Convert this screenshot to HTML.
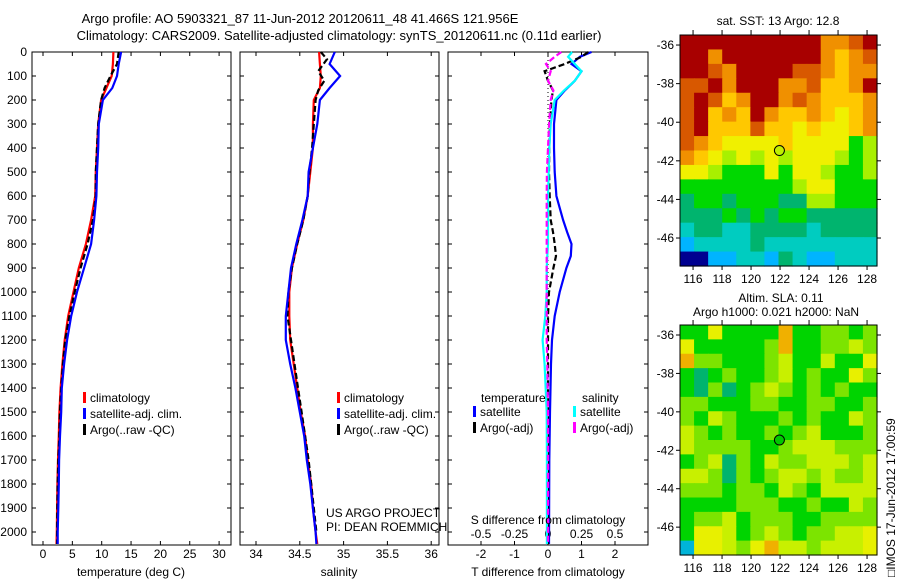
<!DOCTYPE html>
<html><head><meta charset="utf-8"><style>
body{margin:0;background:#fff;}
svg{display:block;font-family:"Liberation Sans",sans-serif;}
text{fill:#000;}
</style></head><body>
<svg id="fig" width="900" height="580" viewBox="0 0 900 580" xmlns="http://www.w3.org/2000/svg">
<rect width="900" height="580" fill="#fff"/>
<text x="300" y="23" font-size="13" text-anchor="middle">Argo profile: AO 5903321_87 11-Jun-2012 20120611_48 41.466S 121.956E</text>
<text x="339" y="40" font-size="13" text-anchor="middle">Climatology: CARS2009. Satellite-adjusted climatology: synTS_20120611.nc (0.11d earlier)</text>
<g id="p1"></g>
<g id="p2"></g>
<g id="p3"></g>
<g id="m1"></g>
<g id="m2"></g>
<text x="778" y="25" font-size="12" text-anchor="middle">sat. SST: 13 Argo: 12.8</text>
<text x="781" y="302" font-size="12" text-anchor="middle">Altim. SLA: 0.11</text>
<text x="776" y="316" font-size="12" text-anchor="middle">Argo h1000: 0.021 h2000: NaN</text>
<text transform="translate(895,577) rotate(-90)" font-size="12">□IMOS 17-Jun-2012 17:00:59</text>
<text x="326" y="517" font-size="12">US ARGO PROJECT</text>
<text x="326" y="531" font-size="12">PI: DEAN ROEMMICH</text>
</svg>
<script>
// ---- profile data ----
const depths = [0,50,100,150,200,300,400,500,600,700,800,900,1000,1100,1200,1300,1400,1500,1600,1700,1800,1900,2000,2050];
const tempClim = [12.0,11.9,11.7,10.8,9.9,9.4,9.2,9.0,8.9,8.2,7.3,6.1,5.2,4.3,3.7,3.3,3.0,2.8,2.7,2.55,2.45,2.4,2.35,2.3];
const tempSat  = [13.3,12.9,12.6,11.8,10.2,9.5,9.4,9.2,9.1,8.7,8.2,7.0,5.8,4.8,4.1,3.6,3.2,3.1,2.9,2.75,2.7,2.6,2.5,2.5];
const tempArgo = [12.9,12.6,11.5,10.5,9.9,9.4,9.2,9.0,9.0,8.5,7.6,6.4,5.4,4.5,3.8,3.4,3.1,2.9,2.8,2.6,2.5,2.45,2.4,2.4];
const salClim = [34.72,34.73,34.74,34.73,34.66,34.65,34.65,34.62,34.59,34.54,34.47,34.41,34.38,34.38,34.39,34.43,34.47,34.51,34.56,34.59,34.63,34.65,34.68,34.70];
const salSat  = [34.90,34.84,34.96,34.84,34.73,34.70,34.65,34.60,34.59,34.53,34.46,34.40,34.37,34.34,34.34,34.39,34.45,34.50,34.55,34.58,34.62,34.65,34.68,34.69];
const salDepthArgo = [0,30,80,120,160,200,300,400,500,600,700,800,900,1000,1100,1200,1300,1400,1500,1600,1700,1800,1900,2000];
const salArgo = [34.74,34.81,34.71,34.78,34.71,34.68,34.66,34.64,34.61,34.59,34.54,34.47,34.41,34.37,34.36,34.40,34.44,34.48,34.52,34.56,34.60,34.63,34.66,34.69];
const diffDepths = [0,20,50,80,120,160,200,300,400,500,600,700,750,800,850,900,1000,1100,1200,1300,1500,1700,2050];
const dTSat  = [1.3,0.95,0.7,1.0,0.8,0.5,0.25,0.18,0.18,0.2,0.25,0.45,0.57,0.7,0.68,0.55,0.35,0.2,0.12,0.09,0.06,0.04,0.03];
const dTArgo = [1.2,1.0,0.5,-0.1,0.0,0.15,0.1,0.06,0.04,0.03,0.05,0.08,0.15,0.2,0.24,0.16,0.03,0.0,0.0,0.0,0.0,0.0,0.0];
const dSSat  = [0.18,0.15,0.2,0.25,0.2,0.12,0.05,0.02,0.01,0.005,0.0,0.0,0.0,0.0,-0.005,-0.01,-0.01,-0.02,-0.04,-0.025,-0.01,-0.008,-0.008];
const dSArgo = [0.1,0.05,-0.015,0.02,0.0,0.04,0.02,0.008,0.0,-0.008,-0.01,-0.01,-0.01,-0.01,-0.01,-0.01,-0.01,-0.01,-0.01,-0.005,0.0,0.0,0.0];
const depthTicks = [0,100,200,300,400,500,600,700,800,900,1000,1100,1200,1300,1400,1500,1600,1700,1800,1900,2000];
const tempTicks = [0,5,10,15,20,25,30];
const salTicks = [34,34.5,35,35.5,36];
const tDiffTicks = [-2,-1,0,1,2];
const sDiffTicks = [-0.5,-0.25,0,0.25,0.5];
const lonTicks = [116,118,120,122,124,126,128];
const latTicks = [-36,-38,-40,-42,-44,-46];
const argoLon = 121.956, argoLat = -41.466;
// ---- map grids (colour index 0..b, 14 cols x 16 rows) ----
const sstGrid = ["bbbbbbbbbb99ab","bb9bbbbbbb989a","bba9bbbbaa9899","aab9bbb99a889b","aba89bb9a98889","ab898b98898789","ab888a88787789","a9877778777756","98767676777656","77655575776556","55555555677555","45545554466555","44454545544444","34433444434444","23333433333333","00223324322333"];
const slaGrid = ["55855559556656","85555569556676","96655567557558","54565567565586","54645676565655","66555665566556","65765556565576","76565565675556","76666556777666","56746576677767","77646567767667","66656657657777","55556665565576","56675666556666","58875676566778","28876897767778"];
const palette = ["#000090","#0060ff","#00b4ff","#00ccc0","#00b46e","#00d800","#a8f000","#f0f000","#ffc800","#f09000","#d85800","#a80000"];
const slaPalette = ["#000090","#0060ff","#00b4d8","#00ccc0","#00b46e","#00d400","#7ce400","#c8f000","#e8f000","#f0b000","#f09000","#a80000"];

const NS="http://www.w3.org/2000/svg";
function mk(tag, attrs, parent){const e=document.createElementNS(NS,tag);for(const k in attrs)e.setAttribute(k,attrs[k]);parent.appendChild(e);return e;}
const Y0=52,Y1=545;
const yD = d => Y0 + d*0.24;

function panelFrame(g, x0, x1, xs, ticks, fmt, name){
  const r = mk('rect',{x:x0,y:Y0,width:x1-x0,height:Y1-Y0,fill:'none',stroke:'#000','stroke-width':1},g);
  
  
  depthTicks.forEach(d=>{
    mk('line',{x1:x0,x2:x0+4,y1:yD(d),y2:yD(d),stroke:'#000'},g);
    mk('line',{x1:x1-4,x2:x1,y1:yD(d),y2:yD(d),stroke:'#000'},g);
  });
  ticks.forEach(t=>{
    const x=xs(t);
    mk('line',{x1:x,x2:x,y1:Y0,y2:Y0+4,stroke:'#000'},g);
    mk('line',{x1:x,x2:x,y1:Y1-4,y2:Y1,stroke:'#000'},g);
    const tx=mk('text',{x:x,y:558,'font-size':12,'text-anchor':'middle'},g);
    tx.textContent=fmt(t);
    
    
  });
}
function line(g, xs, vals, ds, color, dash, name){
  const pts = vals.map((v,i)=>xs(v).toFixed(1)+','+yD(ds[i]).toFixed(1)).join(' ');
  const p = mk('polyline',{points:pts,fill:'none',stroke:color,'stroke-width':2.2},g);
  if(dash) p.setAttribute('stroke-dasharray',dash);
  
  
}
function legend(g, x, y, items){
  items.forEach((it,i)=>{
    const yy=y+i*16;
    mk('rect',{x:x,y:yy-9,width:3,height:11,fill:it[1]},g);
    const t=mk('text',{x:x+7,y:yy+1,'font-size':12},g);
    t.textContent=it[0];
    
    
  });
}
// Panel 1
const p1=document.getElementById('p1');
const xT = v => 43 + v*5.87;
panelFrame(p1,32,231,xT,tempTicks,t=>String(t),'temperature');
depthTicks.forEach(d=>{
  const t=mk('text',{x:27,y:yD(d)+4,'font-size':12,'text-anchor':'end'},p1);
  t.textContent=d;
  
  
});
line(p1,xT,tempClim,depths,'#f00',null,'temp-climatology-line');
line(p1,xT,tempArgo,depths,'#000','6,3','temp-argo-line');
line(p1,xT,tempSat,depths,'#00f',null,'temp-satellite-line');
legend(p1,83,401,[['climatology','#f00'],['satellite-adj. clim.','#00f'],['Argo(..raw -QC)','#000']]);
let at=mk('text',{x:131,y:576,'font-size':12,'text-anchor':'middle'},p1);at.textContent='temperature (deg C)';


// Panel 2
const p2=document.getElementById('p2');
const xS = v => 256 + (v-34)*87.6;
panelFrame(p2,240,439,xS,salTicks,t=>String(t),'salinity');
line(p2,xS,salClim,depths,'#f00',null,'sal-climatology-line');
line(p2,xS,salArgo,salDepthArgo,'#000','6,3','sal-argo-line');
line(p2,xS,salSat,depths,'#00f',null,'sal-satellite-line');
legend(p2,337,401,[['climatology','#f00'],['satellite-adj. clim.','#00f'],['Argo(..raw -QC)','#000']]);
at=mk('text',{x:339,y:576,'font-size':12,'text-anchor':'middle'},p2);at.textContent='salinity';


// Panel 3
const p3=document.getElementById('p3');
const xDT = v => 548 + v*33.5;
const xDS = v => 548 + v*134;
panelFrame(p3,448,648,xDT,tDiffTicks,t=>String(t),'tdiff');
sDiffTicks.forEach(s=>{
  const t=mk('text',{x:xDS(s),y:538,'font-size':12,'text-anchor':'middle'},p3);
  t.textContent=String(s);
  
  
});
mk('line',{x1:548,x2:548,y1:Y0,y2:330,stroke:'#000','stroke-dasharray':'1,3'},p3);
line(p3,xDT,dTSat,diffDepths,'#00f',null,'tdiff-satellite-line');
line(p3,xDT,dTArgo,diffDepths,'#000','6,3','tdiff-argo-line');
line(p3,xDS,dSSat,diffDepths,'#0ff',null,'sdiff-satellite-line');
line(p3,xDS,dSArgo,diffDepths,'#f0f','6,3','sdiff-argo-line');
let lt=mk('text',{x:481,y:402,'font-size':12},p3);lt.textContent='temperature';


lt=mk('text',{x:582,y:402,'font-size':12},p3);lt.textContent='salinity';


legend(p3,473,415,[['satellite','#00f'],['Argo(-adj)','#000']]);
legend(p3,573,415,[['satellite','#0ff'],['Argo(-adj)','#f0f']]);
lt=mk('text',{x:548,y:524,'font-size':12,'text-anchor':'middle'},p3);lt.textContent='S difference from climatology';


at=mk('text',{x:548,y:576,'font-size':12,'text-anchor':'middle'},p3);at.textContent='T difference from climatology';


// Maps
function drawMap(g, grid, pal, top, bottom, markerFill, name){
  const X0=680,X1=877;
  const lon0=115.1, lonS=14.5, lat0=-35.48, latS=(bottom-top)/11.97;
  const xL = lo => X0 + (lo-lon0)*lonS;
  const yL = la => top + (lat0-la)*latS;
  const rows=grid.length, cols=grid[0].length;
  const cw=(X1-X0)/cols, ch=(bottom-top)/rows;
  grid.forEach((row,r)=>{
    for(let c=0;c<cols;c++){
      const cell=mk('rect',{x:(X0+c*cw).toFixed(2),y:(top+r*ch).toFixed(2),width:(cw+0.6).toFixed(2),height:(ch+0.6).toFixed(2),fill:pal[parseInt(row[c],16)]},g);
      
      
    }
  });
  const fr=mk('rect',{x:X0,y:top,width:X1-X0,height:bottom-top,fill:'none',stroke:'#000'},g);
  
  
  lonTicks.forEach(lo=>{
    const x=xL(lo);
    mk('line',{x1:x,x2:x,y1:top-5,y2:top,stroke:'#000'},g);
    mk('line',{x1:x,x2:x,y1:bottom,y2:bottom+4,stroke:'#000'},g);
    const t=mk('text',{x:x,y:bottom+17,'font-size':12,'text-anchor':'middle'},g);t.textContent=lo;
    
    
  });
  latTicks.forEach(la=>{
    const y=yL(la);
    mk('line',{x1:X0-4,x2:X0,y1:y,y2:y,stroke:'#000'},g);
    mk('line',{x1:X1,x2:X1+4,y1:y,y2:y,stroke:'#000'},g);
    const t=mk('text',{x:674,y:y+4,'font-size':12,'text-anchor':'end'},g);t.textContent=la;
    
    
  });
  const m=mk('circle',{cx:xL(argoLon),cy:yL(argoLat),r:5,fill:markerFill,stroke:'#000','stroke-width':1},g);
  
  
}
drawMap(document.getElementById('m1'),sstGrid,palette,35,266,'#c0f000','sst-map');
drawMap(document.getElementById('m2'),slaGrid,slaPalette,325,555,'#00c800','sla-map');
</script>
</body></html>
